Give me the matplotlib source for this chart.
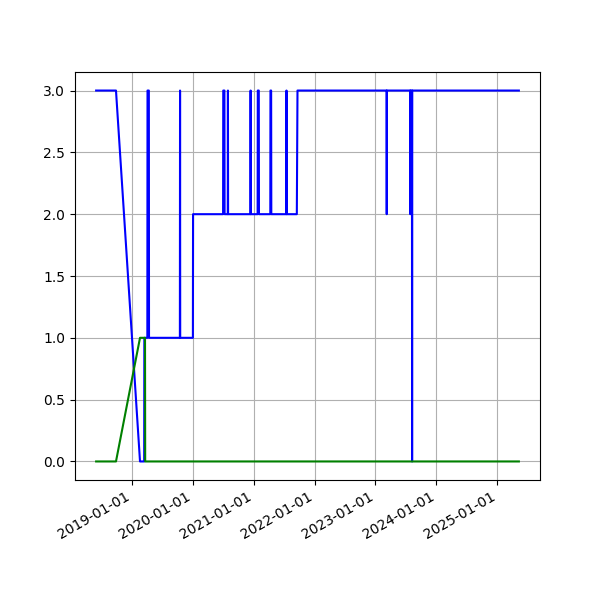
import pandas as pd
import matplotlib
matplotlib.use("Agg")
import matplotlib.pyplot as plt
import matplotlib.dates as mdates

# serie azul (valor por data)
blue_dates = ["2018-06-02", "2018-09-29", "2019-02-20", "2019-03-17", "2019-03-18",
              "2019-04-05", "2019-04-06", "2019-04-14", "2019-04-15",
              "2019-10-17", "2019-10-18", "2019-10-19",
              "2020-01-03", "2020-01-04",
              "2020-07-02", "2020-07-03", "2020-07-10", "2020-07-11",
              "2020-07-30", "2020-07-31", "2020-08-01",
              "2020-12-13", "2020-12-14", "2020-12-15",
              "2021-01-25", "2021-01-26", "2021-02-01", "2021-02-02",
              "2021-04-11", "2021-04-12", "2021-04-16", "2021-04-17",
              "2021-07-16", "2021-07-17", "2021-07-18",
              "2021-09-17", "2021-09-21",
              "2023-03-09", "2023-03-10", "2023-03-11",
              "2023-07-28", "2023-07-29", "2023-07-30",
              "2023-08-08", "2023-08-09", "2023-08-10",
              "2025-05-10"]
blue_vals = [3, 3, 0, 0, 1,
             1, 3, 3, 1,
             1, 3, 1,
             1, 2,
             2, 3, 3, 2,
             2, 3, 2,
             2, 3, 2,
             2, 3, 3, 2,
             2, 3, 3, 2,
             2, 3, 2,
             2, 3,
             3, 2, 3,
             3, 2, 3,
             3, 0, 3,
             3]

# serie verde
green_dates = ["2018-06-02", "2018-09-29", "2019-02-20", "2019-03-22", "2019-03-23", "2025-05-10"]
green_vals = [0, 0, 1, 1, 0, 0]

fig, ax = plt.subplots(figsize=(6, 6), dpi=100)
ax.plot(pd.to_datetime(blue_dates), blue_vals, c='b')
ax.plot(pd.to_datetime(green_dates), green_vals, c='g')
ax.xaxis.set_major_locator(mdates.YearLocator())
ax.xaxis.set_major_formatter(mdates.DateFormatter('%Y-%m-%d'))
ax.grid()
fig.autofmt_xdate()
plt.savefig("out.png")
